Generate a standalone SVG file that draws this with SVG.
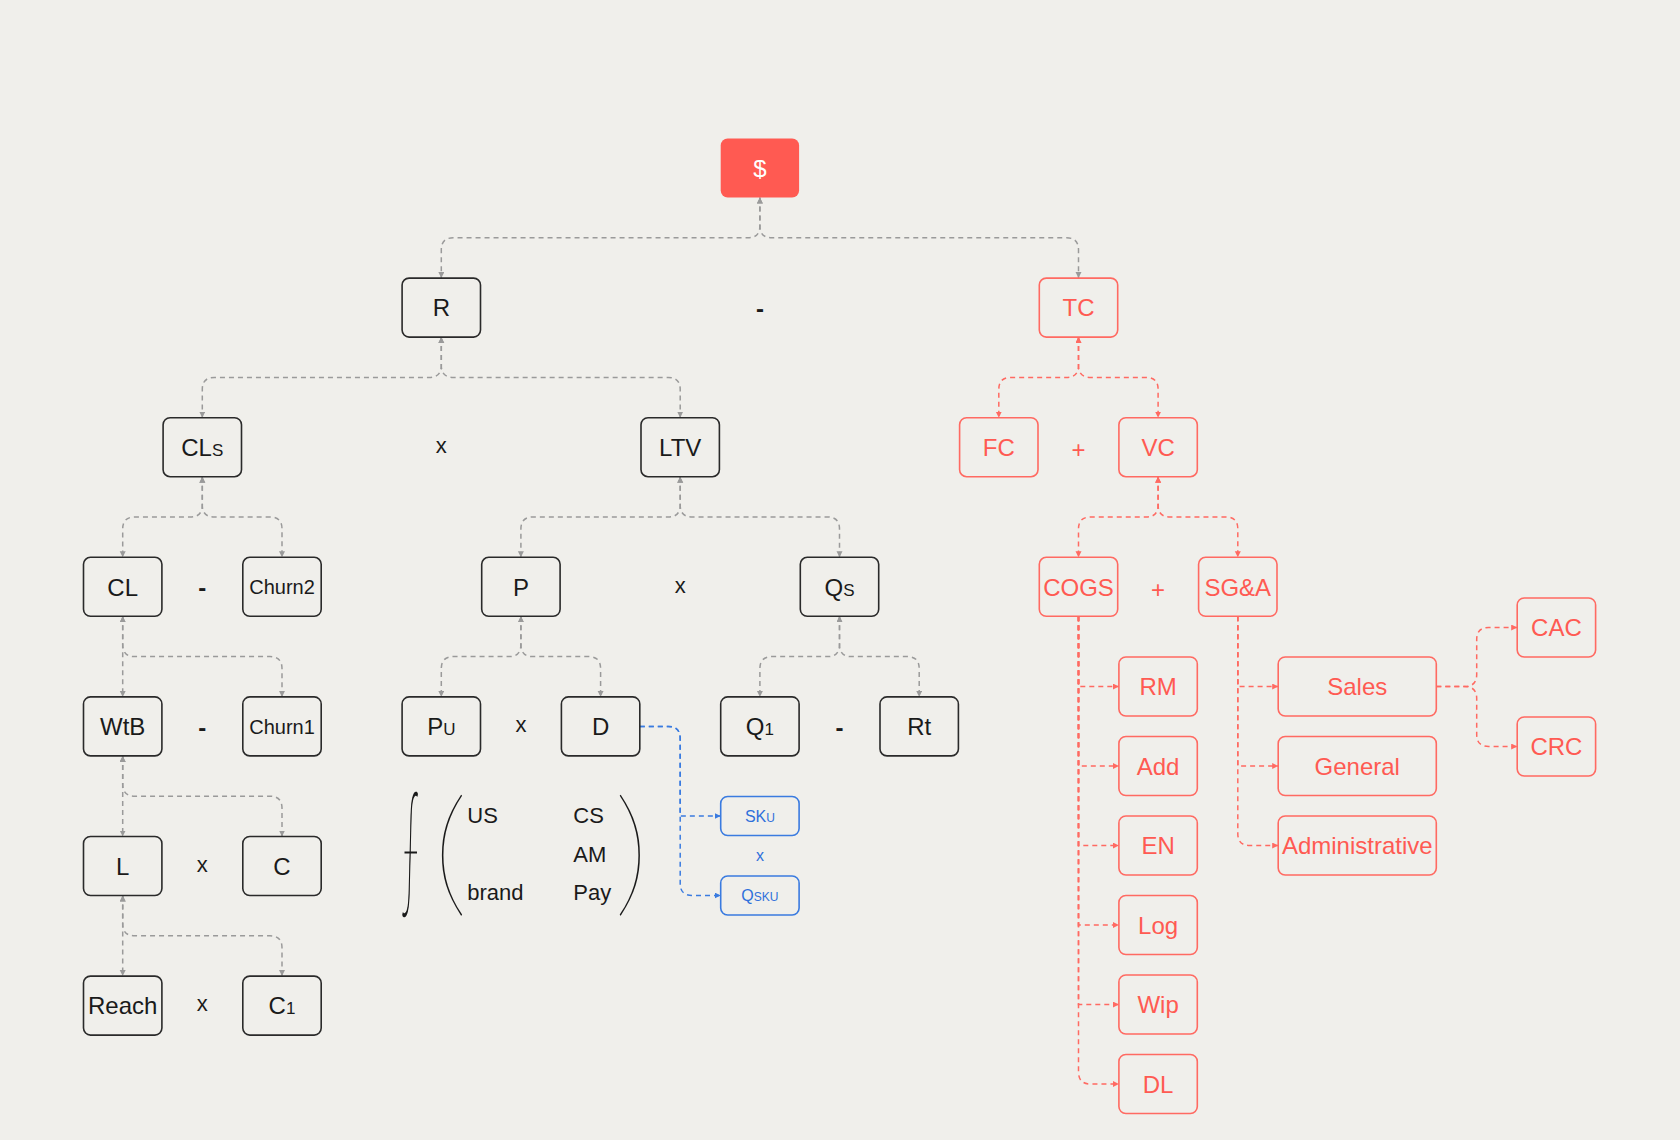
<svg xmlns="http://www.w3.org/2000/svg" width="1680" height="1140" viewBox="0 0 1680 1140">
<defs>
<style>
.bg{fill:#F0EFEB}
.nb{fill:none;stroke:#2a2a2a;stroke-width:1.6}
.nr{fill:none;stroke:#FF6A62;stroke-width:1.6}
.nu{fill:none;stroke:#3A7BE0;stroke-width:1.6}
.t{font-family:"Liberation Sans",Arial,sans-serif;font-size:24px;text-anchor:middle;fill:#1a1a1a}
.t.tr{fill:#FF5A52}
.t.tu{fill:#2F6FDB;font-size:16px}
.t.tw{fill:#ffffff}
.sm{font-size:17px}
.smu{font-size:12px}
.op{font-family:"Liberation Sans",Arial,sans-serif;font-size:22px;text-anchor:middle;fill:#1a1a1a}
.op.dash{font-weight:bold;font-size:24px}
.op.plus{fill:#FF5A52;font-size:24px}
.op.bx{fill:#2F6FDB;font-size:16px}
.m{font-family:"Liberation Sans",Arial,sans-serif;font-size:22px;fill:#1a1a1a}
.big{font-family:Lato,Inter,sans-serif;font-weight:100;text-anchor:middle;fill:#1a1a1a}
.cg{fill:none;stroke:#9a9a9a;stroke-width:1.5;stroke-dasharray:5 4;marker-start:url(#ag);marker-end:url(#ag)}
.cr{fill:none;stroke:#FF6A62;stroke-width:1.5;stroke-dasharray:5 4;marker-start:url(#ar);marker-end:url(#ar)}
.cre{fill:none;stroke:#FF6A62;stroke-width:1.5;stroke-dasharray:5 4;marker-end:url(#ar)}
.cu{fill:none;stroke:#3A7BE0;stroke-width:1.5;stroke-dasharray:5 4;marker-end:url(#au)}
</style>
<marker id="ag" markerUnits="userSpaceOnUse" markerWidth="7" markerHeight="7" refX="6" refY="3" orient="auto-start-reverse"><path d="M0,0 L6,3 L0,6 z" fill="#9a9a9a"/></marker>
<marker id="ar" markerUnits="userSpaceOnUse" markerWidth="7" markerHeight="7" refX="6" refY="3" orient="auto-start-reverse"><path d="M0,0 L6,3 L0,6 z" fill="#FF6A62"/></marker>
<marker id="au" markerUnits="userSpaceOnUse" markerWidth="7" markerHeight="7" refX="6" refY="3" orient="auto-start-reverse"><path d="M0,0 L6,3 L0,6 z" fill="#3A7BE0"/></marker>
</defs>
<rect class="bg" x="0" y="0" width="1680" height="1140"/>

<g id="connectors">
<path class="cg" d="M759.9,197.5 V225.8 Q759.9,237.8 747.9,237.8 H453.3 Q441.3,237.8 441.3,249.8 V278.1"/>
<path class="cg" d="M759.9,197.5 V225.8 Q759.9,237.8 771.9,237.8 H1066.5 Q1078.5,237.8 1078.5,249.8 V278.1"/>
<path class="cg" d="M441.3,337.1 V365.4 Q441.3,377.4 429.3,377.4 H214.3 Q202.3,377.4 202.3,389.4 V417.7"/>
<path class="cg" d="M441.3,337.1 V365.4 Q441.3,377.4 453.3,377.4 H668.2 Q680.2,377.4 680.2,389.4 V417.7"/>
<path class="cr" d="M1078.5,337.1 V365.4 Q1078.5,377.4 1066.5,377.4 H1010.8 Q998.8,377.4 998.8,389.4 V417.7"/>
<path class="cr" d="M1078.5,337.1 V365.4 Q1078.5,377.4 1090.5,377.4 H1146.1 Q1158.1,377.4 1158.1,389.4 V417.7"/>
<path class="cg" d="M202.3,476.7 V505 Q202.3,517 190.3,517 H134.7 Q122.7,517 122.7,529 V557.3"/>
<path class="cg" d="M202.3,476.7 V505 Q202.3,517 214.3,517 H270 Q282,517 282,529 V557.3"/>
<path class="cg" d="M680.2,476.7 V505 Q680.2,517 668.2,517 H532.9 Q520.9,517 520.9,529 V557.3"/>
<path class="cg" d="M680.2,476.7 V505 Q680.2,517 692.2,517 H827.5 Q839.5,517 839.5,529 V557.3"/>
<path class="cr" d="M1158.1,476.7 V505 Q1158.1,517 1146.1,517 H1090.5 Q1078.5,517 1078.5,529 V557.3"/>
<path class="cr" d="M1158.1,476.7 V505 Q1158.1,517 1170.1,517 H1225.8 Q1237.8,517 1237.8,529 V557.3"/>
<path class="cg" d="M122.7,616.3 V696.9"/>
<path class="cg" d="M122.7,616.3 V644.6 Q122.7,656.6 134.7,656.6 H270 Q282,656.6 282,668.6 V696.9"/>
<path class="cg" d="M520.9,616.3 V644.6 Q520.9,656.6 508.9,656.6 H453.3 Q441.3,656.6 441.3,668.6 V696.9"/>
<path class="cg" d="M520.9,616.3 V644.6 Q520.9,656.6 532.9,656.6 H588.6 Q600.6,656.6 600.6,668.6 V696.9"/>
<path class="cg" d="M839.5,616.3 V644.6 Q839.5,656.6 827.5,656.6 H771.9 Q759.9,656.6 759.9,668.6 V696.9"/>
<path class="cg" d="M839.5,616.3 V644.6 Q839.5,656.6 851.5,656.6 H907.2 Q919.2,656.6 919.2,668.6 V696.9"/>
<path class="cg" d="M122.7,755.9 V836.5"/>
<path class="cg" d="M122.7,755.9 V784.2 Q122.7,796.2 134.7,796.2 H270 Q282,796.2 282,808.2 V836.5"/>
<path class="cg" d="M122.7,895.5 V976.1"/>
<path class="cg" d="M122.7,895.5 V923.8 Q122.7,935.8 134.7,935.8 H270 Q282,935.8 282,947.8 V976.1"/>
<path class="cre" d="M1078.5,616.3 V686.5 H1118.9"/>
<path class="cre" d="M1078.5,616.3 V766 H1118.9"/>
<path class="cre" d="M1078.5,616.3 V845.5 H1118.9"/>
<path class="cre" d="M1078.5,616.3 V925 H1118.9"/>
<path class="cre" d="M1078.5,616.3 V1004.5 H1118.9"/>
<path class="cre" d="M1078.5,616.3 V1072 Q1078.5,1084 1090.5,1084 H1118.9"/>
<path class="cre" d="M1237.8,616.3 V686.5 H1278.2"/>
<path class="cre" d="M1237.8,616.3 V766 H1278.2"/>
<path class="cre" d="M1237.8,616.3 V833.5 Q1237.8,845.5 1249.8,845.5 H1278.2"/>
<path class="cre" d="M1436.3,686.5 H1464.7 Q1476.7,686.5 1476.7,674.5 V639.5 Q1476.7,627.5 1488.7,627.5 H1517.2"/>
<path class="cre" d="M1436.3,686.5 H1464.7 Q1476.7,686.5 1476.7,698.5 V734.5 Q1476.7,746.5 1488.7,746.5 H1517.2"/>
<path class="cu" d="M639.8,726.4 H668.2 Q680.2,726.4 680.2,738.4 V816 H720.7"/>
<path class="cu" d="M639.8,726.4 H668.2 Q680.2,726.4 680.2,738.4 V883.5 Q680.2,895.5 692.2,895.5 H720.7"/>
</g>

<g id="n-dollar"><rect x="720.7" y="138.5" width="78.4" height="59" rx="7" fill="#FF5A52"/><text class="t tw" x="759.9" y="176.8">$</text></g>
<g id="n-R"><rect class="nb" x="402.1" y="278.1" width="78.4" height="59" rx="7"/><text class="t" x="441.3" y="316.4">R</text></g>
<g id="n-TC"><rect class="nr" x="1039.3" y="278.1" width="78.4" height="59" rx="7"/><text class="t tr" x="1078.5" y="316.4">TC</text></g>
<g id="n-CLs"><rect class="nb" x="163.1" y="417.7" width="78.4" height="59" rx="7"/><text class="t" x="202.3" y="456">CL<tspan class="sm">S</tspan></text></g>
<g id="n-LTV"><rect class="nb" x="641" y="417.7" width="78.4" height="59" rx="7"/><text class="t" x="680.2" y="456">LTV</text></g>
<g id="n-FC"><rect class="nr" x="959.6" y="417.7" width="78.4" height="59" rx="7"/><text class="t tr" x="998.8" y="456">FC</text></g>
<g id="n-VC"><rect class="nr" x="1118.9" y="417.7" width="78.4" height="59" rx="7"/><text class="t tr" x="1158.1" y="456">VC</text></g>
<g id="n-CL"><rect class="nb" x="83.5" y="557.3" width="78.4" height="59" rx="7"/><text class="t" x="122.7" y="595.6">CL</text></g>
<g id="n-Churn2"><rect class="nb" x="242.8" y="557.3" width="78.4" height="59" rx="7"/><text class="t" x="282" y="594" style="font-size:20px">Churn2</text></g>
<g id="n-P"><rect class="nb" x="481.7" y="557.3" width="78.4" height="59" rx="7"/><text class="t" x="520.9" y="595.6">P</text></g>
<g id="n-Qs"><rect class="nb" x="800.3" y="557.3" width="78.4" height="59" rx="7"/><text class="t" x="839.5" y="595.6">Q<tspan class="sm">S</tspan></text></g>
<g id="n-COGS"><rect class="nr" x="1039.3" y="557.3" width="78.4" height="59" rx="7"/><text class="t tr" x="1078.5" y="595.6">COGS</text></g>
<g id="n-SGA"><rect class="nr" x="1198.6" y="557.3" width="78.4" height="59" rx="7"/><text class="t tr" x="1237.8" y="595.6">SG&amp;A</text></g>
<g id="n-WtB"><rect class="nb" x="83.5" y="696.9" width="78.4" height="59" rx="7"/><text class="t" x="122.7" y="735.2">WtB</text></g>
<g id="n-Churn1"><rect class="nb" x="242.8" y="696.9" width="78.4" height="59" rx="7"/><text class="t" x="282" y="733.6" style="font-size:20px">Churn1</text></g>
<g id="n-Pu"><rect class="nb" x="402.1" y="696.9" width="78.4" height="59" rx="7"/><text class="t" x="441.3" y="735.2">P<tspan class="sm">U</tspan></text></g>
<g id="n-D"><rect class="nb" x="561.4" y="696.9" width="78.4" height="59" rx="7"/><text class="t" x="600.6" y="735.2">D</text></g>
<g id="n-Q1"><rect class="nb" x="720.7" y="696.9" width="78.4" height="59" rx="7"/><text class="t" x="759.9" y="735.2">Q<tspan class="sm">1</tspan></text></g>
<g id="n-Rt"><rect class="nb" x="880" y="696.9" width="78.4" height="59" rx="7"/><text class="t" x="919.2" y="735.2">Rt</text></g>
<g id="n-L"><rect class="nb" x="83.5" y="836.5" width="78.4" height="59" rx="7"/><text class="t" x="122.7" y="874.8">L</text></g>
<g id="n-C"><rect class="nb" x="242.8" y="836.5" width="78.4" height="59" rx="7"/><text class="t" x="282" y="874.8">C</text></g>
<g id="n-Reach"><rect class="nb" x="83.5" y="976.1" width="78.4" height="59" rx="7"/><text class="t" x="122.7" y="1014.4">Reach</text></g>
<g id="n-C1"><rect class="nb" x="242.8" y="976.1" width="78.4" height="59" rx="7"/><text class="t" x="282" y="1014.4">C<tspan class="sm">1</tspan></text></g>
<g id="n-SKu"><rect class="nu" x="720.7" y="796.5" width="78.4" height="39" rx="7"/><text class="t tu" x="759.9" y="821.7">SK<tspan class="smu">U</tspan></text></g>
<g id="n-Qsku"><rect class="nu" x="720.7" y="876" width="78.4" height="39" rx="7"/><text class="t tu" x="759.9" y="901.2">Q<tspan class="smu">SKU</tspan></text></g>
<g id="n-RM"><rect class="nr" x="1118.9" y="657" width="78.4" height="59" rx="7"/><text class="t tr" x="1158.1" y="695.3">RM</text></g>
<g id="n-Add"><rect class="nr" x="1118.9" y="736.5" width="78.4" height="59" rx="7"/><text class="t tr" x="1158.1" y="774.8">Add</text></g>
<g id="n-EN"><rect class="nr" x="1118.9" y="816" width="78.4" height="59" rx="7"/><text class="t tr" x="1158.1" y="854.3">EN</text></g>
<g id="n-Log"><rect class="nr" x="1118.9" y="895.5" width="78.4" height="59" rx="7"/><text class="t tr" x="1158.1" y="933.8">Log</text></g>
<g id="n-Wip"><rect class="nr" x="1118.9" y="975" width="78.4" height="59" rx="7"/><text class="t tr" x="1158.1" y="1013.3">Wip</text></g>
<g id="n-DL"><rect class="nr" x="1118.9" y="1054.5" width="78.4" height="59" rx="7"/><text class="t tr" x="1158.1" y="1092.8">DL</text></g>
<g id="n-Sales"><rect class="nr" x="1278.2" y="657" width="158.1" height="59" rx="7"/><text class="t tr" x="1357.25" y="695.3">Sales</text></g>
<g id="n-General"><rect class="nr" x="1278.2" y="736.5" width="158.1" height="59" rx="7"/><text class="t tr" x="1357.25" y="774.8">General</text></g>
<g id="n-Administrative"><rect class="nr" x="1278.2" y="816" width="158.1" height="59" rx="7"/><text class="t tr" x="1357.25" y="854.3">Administrative</text></g>
<g id="n-CAC"><rect class="nr" x="1517.2" y="598" width="78.4" height="59" rx="7"/><text class="t tr" x="1556.4" y="636.3">CAC</text></g>
<g id="n-CRC"><rect class="nr" x="1517.2" y="717" width="78.4" height="59" rx="7"/><text class="t tr" x="1556.4" y="755.3">CRC</text></g>

<g id="operators">
<text class="op dash" x="759.9" y="317">-</text>
<text class="op" x="441.3" y="452.9">x</text>
<text class="op plus" x="1078.5" y="458">+</text>
<text class="op dash" x="202.3" y="596.3">-</text>
<text class="op" x="680.2" y="592.5">x</text>
<text class="op plus" x="1158.1" y="597.6">+</text>
<text class="op dash" x="202.3" y="735.9">-</text>
<text class="op" x="520.9" y="732.1">x</text>
<text class="op dash" x="839.5" y="735.9">-</text>
<text class="op" x="202.3" y="871.7">x</text>
<text class="op" x="202.3" y="1011.3">x</text>
<text class="op bx" x="759.9" y="860.5">x</text>
</g>

<g id="formula">
<text class="big" x="410" y="893" transform="translate(410,0) scale(0.24,1) translate(-410,0)" style="font-size:123px;stroke:#1a1a1a;stroke-width:2.2px;vector-effect:non-scaling-stroke">∫</text>
<line x1="404.5" y1="852.5" x2="417" y2="852.5" stroke="#1a1a1a" stroke-width="2"/>
<text class="big" x="450.5" y="899" style="font-size:139px">(</text>
<text class="big" x="631.5" y="899" style="font-size:139px">)</text>
<text class="m" x="467.3" y="822.7">US</text>
<text class="m" x="573.3" y="822.7">CS</text>
<text class="m" x="573.3" y="861.5">AM</text>
<text class="m" x="467.3" y="900">brand</text>
<text class="m" x="573.3" y="900">Pay</text>
</g>
</svg>
